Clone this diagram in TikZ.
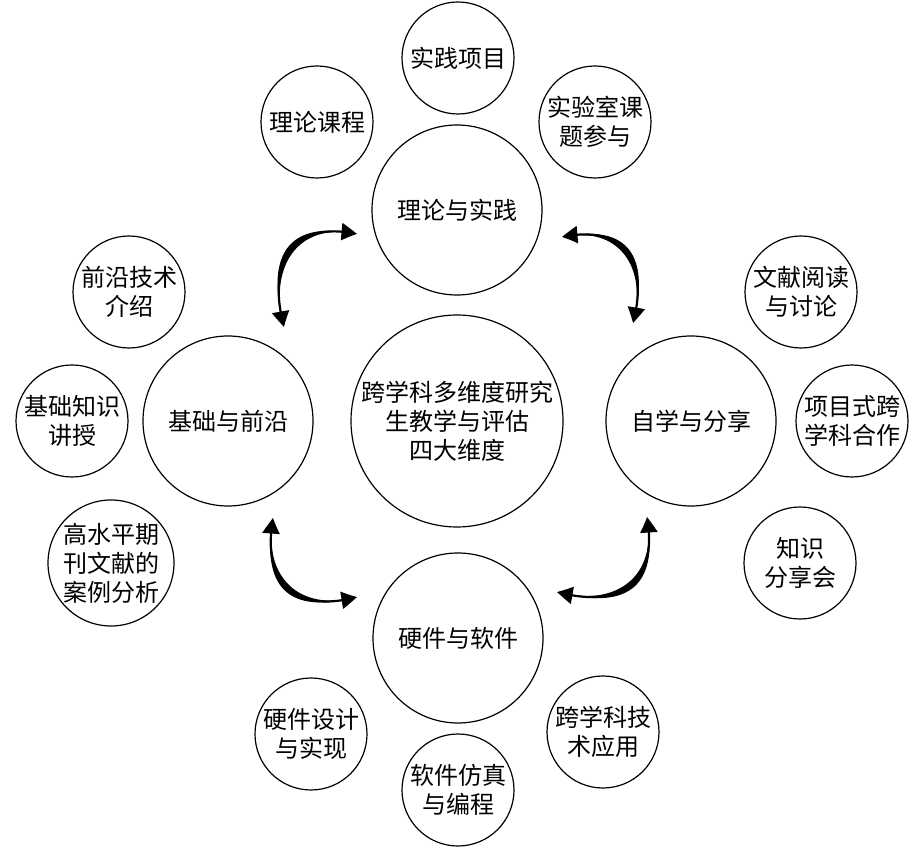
\documentclass[tikz,border=0pt]{standalone}
\usepackage{fontspec}
\newfontfamily\cjk{Noto Sans CJK SC}
\usetikzlibrary{arrows.meta,bending}
\tikzset{
  base/.style={circle,draw=black,line width=1.2pt,align=center,inner sep=0pt,
    font=\cjk\fontsize{24}{29}\selectfont},
  hub/.style={base,minimum size=212pt},
  dim/.style={base,minimum size=170pt},
  leaf/.style={base,minimum size=112pt},
  bigleaf/.style={base,minimum size=126pt},
  cyc/.style={line width=2.2pt,looseness=1.45,{Triangle[length=16pt,width=17pt,bend]}-{Triangle[length=16pt,width=17pt,bend]}},
}
\begin{document}
\begin{tikzpicture}[x=1pt,y=1pt]
\useasboundingbox (0,0) rectangle (912,849);
% hub and dimensions
\node[hub] (c) at (457,428) {跨学科多维度研究\\生教学与评估\\四大维度};
\node[dim] (T) at (457,639) {理论与实践};
\node[dim] (L) at (228,428) {基础与前沿};
\node[dim] (R) at (691,428) {自学与分享};
\node[dim] (B) at (458,211) {硬件与软件};
% leaves
\node[leaf] (t1) at (458,791) {实践项目};
\node[leaf] (t2) at (317,727) {理论课程};
\node[leaf] (t3) at (595,727) {实验室课\\题参与};
\node[leaf] (l1) at (129,557) {前沿技术\\介绍};
\node[leaf] (l2) at (72,428) {基础知识\\讲授};
\node[bigleaf] (l3) at (111,286) {高水平期\\刊文献的\\案例分析};
\node[leaf] (r1) at (801,557) {文献阅读\\与讨论};
\node[leaf] (r2) at (852,428) {项目式跨\\学科合作};
\node[leaf] (r3) at (800,286) {知识\\分享会};
\node[leaf] (b1) at (311,115) {硬件设计\\与实现};
\node[leaf] (b2) at (458,59) {软件仿真\\与编程};
\node[leaf] (b3) at (603,117) {跨学科技\\术应用};
% arrow end points
\coordinate (p1) at (284,522); \coordinate (q1) at (357,615);
\coordinate (p2) at (633,526); \coordinate (q2) at (562,612);
\coordinate (p3) at (273,331); \coordinate (q3) at (357,252);
\coordinate (p4) at (647,332); \coordinate (q4) at (557,257);
% tapered bodies
\fill (p1) to[out=105,in=168,looseness=1.57] (q1) to[out=168,in=105,looseness=1.33] (p1);
\fill (p2) to[out=75,in=12,looseness=1.57] (q2) to[out=12,in=75,looseness=1.33] (p2);
\fill (p3) to[out=-100,in=195,looseness=1.57] (q3) to[out=195,in=-100,looseness=1.33] (p3);
\fill (p4) to[out=-80,in=-15,looseness=1.57] (q4) to[out=-15,in=-80,looseness=1.33] (p4);
% heads
\draw[cyc] (p1) to[out=105,in=168] (q1);
\draw[cyc] (p2) to[out=75,in=12] (q2);
\draw[cyc] (p3) to[out=-100,in=195] (q3);
\draw[cyc] (p4) to[out=-80,in=-15] (q4);
\end{tikzpicture}
\end{document}
